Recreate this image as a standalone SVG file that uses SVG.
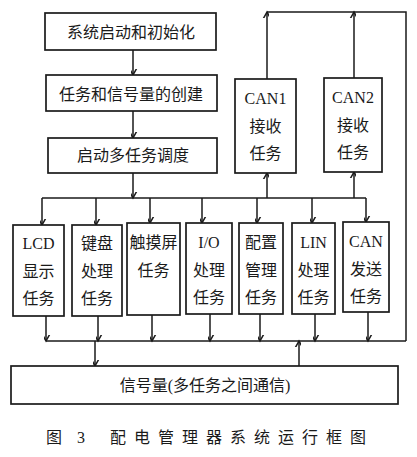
<svg xmlns="http://www.w3.org/2000/svg" width="417" height="457" viewBox="0 0 417 457">
<defs>
<style>
.box{fill:#fff;stroke:#1a1a1a;stroke-width:1.7}
.ln{fill:none;stroke:#1a1a1a;stroke-width:1.5}
.ar{fill:none;stroke:#1a1a1a;stroke-width:1.5;marker-end:url(#ah)}
text{font-family:"Liberation Serif","Noto Sans CJK SC",serif;font-size:16px;fill:#1a1a1a;text-anchor:middle;dominant-baseline:central}
</style>
<marker id="ah" markerWidth="12" markerHeight="12" viewBox="-6 -10 12 12" refX="0" refY="0" orient="auto-start-reverse" markerUnits="userSpaceOnUse">
<path d="M-5,-9 L0,0 L5,-9" fill="none" stroke="#1a1a1a" stroke-width="1.5" transform="rotate(-90)"/>
</marker>
</defs>
<rect width="417" height="457" fill="#fff"/>
<g id="connectors">
<line class="ar" x1="133" y1="50" x2="133" y2="75"/>
<line class="ar" x1="133" y1="111" x2="133" y2="138"/>
<line class="ar" x1="133" y1="173" x2="133" y2="198"/>
<line class="ln" x1="42" y1="198" x2="366" y2="198"/>
<line class="ar" x1="42" y1="198" x2="42" y2="225"/>
<line class="ar" x1="96" y1="198" x2="96" y2="225"/>
<line class="ar" x1="150" y1="198" x2="150" y2="223"/>
<line class="ar" x1="202" y1="198" x2="202" y2="223"/>
<line class="ar" x1="257" y1="198" x2="257" y2="223"/>
<line class="ar" x1="312" y1="198" x2="312" y2="223"/>
<line class="ar" x1="366" y1="198" x2="366" y2="222"/>
<line class="ar" x1="267" y1="198" x2="267" y2="173"/>
<line class="ar" x1="354" y1="198" x2="354" y2="172"/>
<line class="ar" x1="267" y1="79" x2="267" y2="12"/>
<line class="ar" x1="354" y1="78" x2="354" y2="12"/>
<polyline class="ln" points="267,12 406,12 406,341"/>
<line class="ar" x1="46" y1="316" x2="46" y2="341"/>
<line class="ar" x1="98" y1="316" x2="98" y2="341"/>
<line class="ar" x1="152" y1="315" x2="152" y2="341"/>
<line class="ar" x1="210" y1="314" x2="210" y2="341"/>
<line class="ar" x1="260" y1="314" x2="260" y2="341"/>
<line class="ar" x1="315" y1="314" x2="315" y2="341"/>
<line class="ar" x1="368" y1="312" x2="368" y2="341"/>
<line class="ln" x1="46" y1="341" x2="406" y2="341"/>
<line class="ar" x1="95" y1="341" x2="95" y2="366"/>
<line class="ar" x1="299" y1="366" x2="299" y2="341"/>
</g>
<g id="init"><rect class="box" x="45" y="13" width="171" height="37"/><text x="131" y="32" font-size="16.5">系统启动和初始化</text></g>
<g id="create"><rect class="box" x="46" y="75" width="171" height="36"/><text x="131" y="94">任务和信号量的创建</text></g>
<g id="sched"><rect class="box" x="48" y="138" width="169" height="35"/><text x="133" y="155">启动多任务调度</text></g>
<g id="can1"><rect class="box" x="235" y="79" width="61" height="94"/><text x="265.5" y="98">CAN1</text><text x="265.5" y="126">接收</text><text x="265.5" y="153">任务</text></g>
<g id="can2"><rect class="box" x="324" y="78" width="58" height="94"/><text x="353" y="97">CAN2</text><text x="353" y="125">接收</text><text x="353" y="152">任务</text></g>
<g id="lcd"><rect class="box" x="13" y="225" width="51" height="91"/><text x="38.5" y="243">LCD</text><text x="38.5" y="271">显示</text><text x="38.5" y="298">任务</text></g>
<g id="key"><rect class="box" x="72" y="225" width="50" height="91"/><text x="97" y="243">键盘</text><text x="97" y="271">处理</text><text x="97" y="298">任务</text></g>
<g id="touch"><rect class="box" x="127" y="223" width="53" height="92"/><text x="153.5" y="242">触摸屏</text><text x="153.5" y="270">任务</text></g>
<g id="io"><rect class="box" x="186" y="223" width="46" height="91"/><text x="209" y="242">I/O</text><text x="209" y="270">处理</text><text x="209" y="297">任务</text></g>
<g id="config"><rect class="box" x="239" y="223" width="44" height="91"/><text x="261" y="242">配置</text><text x="261" y="270">管理</text><text x="261" y="297">任务</text></g>
<g id="lin"><rect class="box" x="292" y="223" width="43" height="91"/><text x="313.5" y="242">LIN</text><text x="313.5" y="270">处理</text><text x="313.5" y="297">任务</text></g>
<g id="cansend"><rect class="box" x="343" y="222" width="46" height="90"/><text x="366" y="241">CAN</text><text x="366" y="269">发送</text><text x="366" y="296">任务</text></g>
<g id="semaphore"><rect class="box" x="11" y="366" width="387" height="38"/><text x="205" y="385" font-size="18">信号量(多任务之间通信)</text></g>
<g id="caption"><text x="54" y="437" font-size="19">图</text><text x="81" y="437" font-size="19">3</text><text x="110" y="437" font-size="19" letter-spacing="8" style="text-anchor:start">配电管理器系统运行框图</text></g>
</svg>
